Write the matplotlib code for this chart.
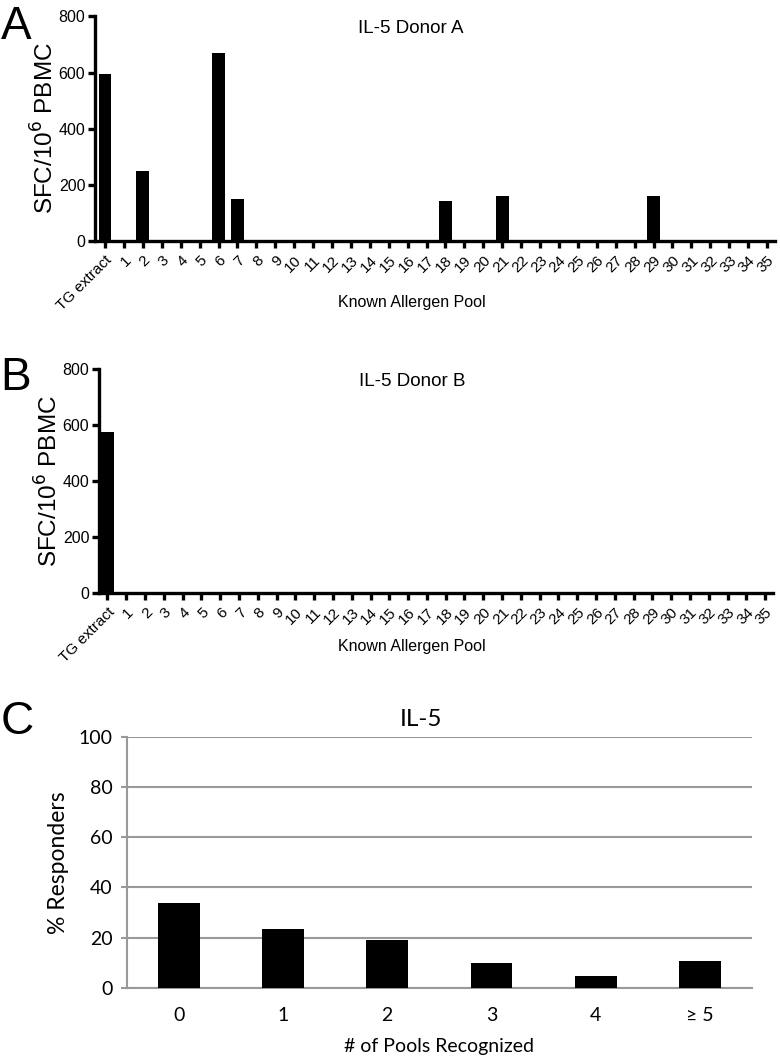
import matplotlib
matplotlib.use("Agg")
import matplotlib.pyplot as plt
import numpy as np

# ---- data ----
pool_labels = ["TG extract"] + [str(i) for i in range(1, 36)]
donorA_pools = ["TG extract", "2", "6", "7", "18", "21", "29"]
donorA_vals = [595, 250, 670, 150, 140, 160, 160]
donorB_pools = ["TG extract"]
donorB_vals = [575]

c_categories = ["0", "1", "2", "3", "4", "\u2265 5"]
c_values = [33.6, 23.4, 19.0, 9.7, 4.7, 10.5]

fig = plt.figure(figsize=(7.8, 10.6), dpi=100)
W, H = 780, 1060

def ax_px(l, t, r, b):
    return fig.add_axes([l / W, 1 - b / H, (r - l) / W, (b - t) / H])

SANS = ["Liberation Sans", "DejaVu Sans"]

def donor_panel(ax, pools, vals, title, left_offset, xlabel_y):
    full = [0.0] * len(pool_labels)
    for p, v in zip(pools, vals):
        full[pool_labels.index(p)] = v
    x = np.arange(len(pool_labels))
    ax.bar(x, full, width=0.68, color="black", zorder=3)
    ax.set_xlim(-left_offset, 35.42)
    ax.set_ylim(0, 800)
    ax.set_yticks([0, 200, 400, 600, 800])
    ax.set_yticklabels(["0", "200", "400", "600", "800"], family=SANS, fontsize=11.5)
    ax.set_xticks(x)
    ax.set_xticklabels(pool_labels, rotation=45, ha="right", va="top",
                       rotation_mode="anchor", family=SANS, fontsize=11)
    for s in ["top", "right"]:
        ax.spines[s].set_visible(False)
    for s in ["left", "bottom"]:
        ax.spines[s].set_linewidth(2.4)
    ax.tick_params(axis="both", width=2.4, length=5, direction="out", pad=2)
    ax.tick_params(axis="x", pad=4)
    ax.set_ylabel("SFC/10$^{6}$ PBMC", family=SANS, fontsize=17.5, labelpad=0)
    ax.text(0.465, 0.985, title, transform=ax.transAxes, ha="center", va="top",
            family=SANS, fontsize=13.5)
    fig.text(412 / W, 1 - xlabel_y / H, "Known Allergen Pool", family=SANS,
             fontsize=11.5, ha="center", va="center")

axA = ax_px(95, 16.5, 775, 240.7)
donor_panel(axA, donorA_pools, donorA_vals, "IL-5 Donor A", 0.53, 303)
axB = ax_px(99, 369.3, 773, 592.7)
donor_panel(axB, donorB_pools, donorB_vals, "IL-5 Donor B", 0.45, 647)

# ---- panel C ----
CF = ["Lato", "DejaVu Sans"]
axC = ax_px(126.7, 736.7, 752, 987.7)
xc = np.arange(len(c_categories))
axC.bar(xc, c_values, width=0.4, color="black", zorder=3)
axC.set_xlim(-0.5, 5.5)
axC.set_ylim(0, 100)
axC.set_yticks([0, 20, 40, 60, 80, 100])
axC.set_yticklabels(["0", "20", "40", "60", "80", "100"], family=CF, fontsize=14)
axC.set_xticks(xc)
axC.set_xticklabels(c_categories, family=CF, fontsize=14)
axC.yaxis.grid(True, color="#999999", linewidth=1.5, zorder=0)
axC.set_axisbelow(True)
for s in ["top", "right"]:
    axC.spines[s].set_visible(False)
for s in ["left", "bottom"]:
    axC.spines[s].set_color("#999999")
    axC.spines[s].set_linewidth(1.5)
axC.tick_params(axis="y", length=4, color="#999999", width=1.5, pad=6)
axC.tick_params(axis="x", length=0, pad=14)
axC.set_ylabel("% Responders", family=CF, fontsize=16.5, labelpad=7)
axC.set_xlabel("# of Pools Recognized", family=CF, fontsize=14, labelpad=10)
axC.set_title("IL-5", family=CF, fontsize=17.5, x=0.47, pad=8)

# panel letters
for letter, y in [("A", 27), ("B", 378), ("C", 722)]:
    fig.text(0.5 / W, 1 - y / H, letter, family=SANS, fontsize=33,
             ha="left", va="center")

fig.savefig("out.png", dpi=100)
